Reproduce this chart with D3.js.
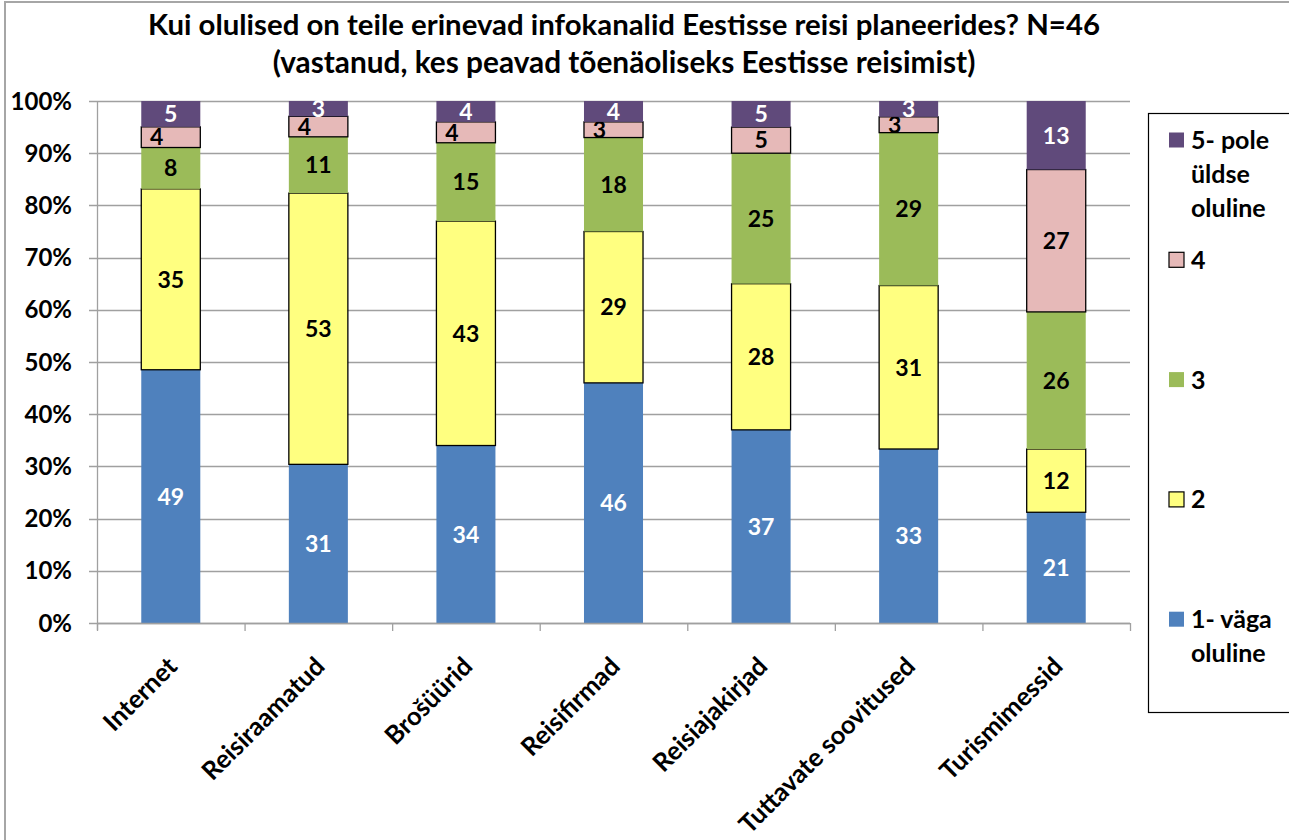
<!DOCTYPE html>
<html><head><meta charset="utf-8">
<script src="https://cdn.jsdelivr.net/npm/d3@7"></script>
<style>
body{margin:0;background:#fff}
svg{display:block}
text{font-family:Lato,"Open Sans",sans-serif;font-weight:bold;fill:#000}
</style></head>
<body><svg id="chart" width="1289" height="840"></svg>
<script>
const titleLines = ["Kui olulised on teile erinevad infokanalid Eestisse reisi planeerides? N=46",
                    "(vastanud, kes peavad tõenäoliseks Eestisse reisimist)"];
const categories = ["Internet","Reisiraamatud","Brošüürid","Reisifirmad","Reisiajakirjad","Tuttavate soovitused","Turismimessid"];
const seriesNames = ["1- väga oluline","2","3","4","5- pole üldse oluline"];
const s1 = [49,31,34,46,37,33,21];
const s2 = [35,53,43,29,28,31,12];
const s3 = [8,11,15,18,25,29,26];
const s4 = [4,4,4,3,5,3,27];
const s5 = [5,3,4,4,5,3,13];
const yTickValues = [0,0.1,0.2,0.3,0.4,0.5,0.6,0.7,0.8,0.9,1];

const seriesValues = [s1,s2,s3,s4,s5];
const colors = ["#4F81BD","#FFFF80","#9BBB59","#E6B9B8","#604A7B"];
const strokes = [null,"#000",null,"#000",null];
const labelColors = ["#fff","#000","#000","#000","#fff"];

const svg = d3.select("#chart");
const m = {left:97, right:1130, top:101, bottom:623};

// outer frame
svg.append("rect").attr("x",5).attr("y",2).attr("width",1400).attr("height",900)
  .attr("fill","none").attr("stroke","#A6A6A6").attr("stroke-width",2);

// title
const titleY = [35,73];
const titleW = [952,703];
titleLines.forEach((t,i)=>{
  const el = svg.append("text").attr("x",624).attr("y",titleY[i]).attr("text-anchor","middle")
    .style("font-size","24px").text(t);
  const w = el.node().getComputedTextLength();
  el.style("font-size",(24*titleW[i]/w).toFixed(2)+"px");
});

const keys = seriesNames;
const rows = categories.map((c,i)=>{
  const o = {cat:c};
  keys.forEach((k,j)=>o[k]=seriesValues[j][i]);
  return o;
});
const stacked = d3.stack().keys(keys).offset(d3.stackOffsetExpand)(rows);

const x = d3.scaleBand().domain(categories).range([m.left,m.right]).paddingInner(0.6).paddingOuter(0.3);
const xb = d3.scaleBand().domain(categories).range([m.left,m.right]);
const y = d3.scaleLinear().domain([0,1]).range([m.bottom,m.top]);

// gridlines + y ticks
const gy = svg.append("g");
gy.selectAll("line").data(yTickValues).join("line")
  .attr("x1",m.left-8).attr("x2",m.right)
  .attr("y1",d=>Math.round(y(d))+0.5).attr("y2",d=>Math.round(y(d))+0.5)
  .attr("stroke","#A0A0A0").attr("stroke-width",1.3);
gy.selectAll("text").data(yTickValues).join("text")
  .attr("x",72).attr("y",d=>y(d)).attr("dy","0.36em").attr("text-anchor","end")
  .style("font-size","24px").text(d3.format(".0%"));

// y axis line
svg.append("line").attr("x1",m.left+0.5).attr("x2",m.left+0.5).attr("y1",m.top).attr("y2",m.bottom+7)
  .attr("stroke","#A0A0A0").attr("stroke-width",1.3);

// bars
const layers = svg.append("g").selectAll("g").data(stacked).join("g");
layers.each(function(layer,si){
  d3.select(this).selectAll("rect").data(layer).join("rect")
    .attr("x",d=>x(d.data.cat)).attr("width",x.bandwidth())
    .attr("y",d=>y(d[1])).attr("height",d=>y(d[0])-y(d[1]))
    .attr("fill",colors[si])
    .attr("stroke",strokes[si]||"none").attr("stroke-width",strokes[si]?1.3:0);
});
// labels
layers.each(function(layer,si){
  d3.select(this).selectAll("text").data(layer).join("text")
    .attr("x",d=>{
      const h = y(d[0])-y(d[1]);
      const shift = (si===3 && h<24) ? -14 : 0;
      return x(d.data.cat)+x.bandwidth()/2+shift;
    })
    .attr("y",d=>(y(d[0])+y(d[1]))/2).attr("dy","0.36em").attr("text-anchor","middle")
    .style("font-size","23px").style("fill",labelColors[si])
    .text(d=>d.data[layer.key]);
});

// x axis line + ticks
svg.append("line").attr("x1",m.left).attr("x2",m.right).attr("y1",m.bottom+0.5).attr("y2",m.bottom+0.5)
  .attr("stroke","#A0A0A0").attr("stroke-width",1.3);
const bounds = categories.map(c=>xb(c)).concat([m.right]);
svg.append("g").selectAll("line").data(bounds).join("line")
  .attr("x1",d=>d+0.5).attr("x2",d=>d+0.5).attr("y1",m.bottom).attr("y2",m.bottom+8)
  .attr("stroke","#A0A0A0").attr("stroke-width",1.3);

// x labels
svg.append("g").selectAll("text").data(categories).join("text")
  .attr("text-anchor","end")
  .attr("transform",c=>`translate(${x(c)+x.bandwidth()/2+8},${m.bottom+45}) rotate(-45)`)
  .style("font-size","25.5px").text(c=>c);

// legend
const lg = svg.append("g");
lg.append("rect").attr("x",1148.5).attr("y",113.5).attr("width",200).attr("height",599)
  .attr("fill","#fff").attr("stroke","#000").attr("stroke-width",1.2);
const order = [4,3,2,1,0];
const step = (712-113)/5;
order.forEach((si,i)=>{
  const cy = 140 + i*step;
  lg.append("rect").attr("x",1169).attr("y",cy-7.5).attr("width",15).attr("height",15)
    .attr("fill",colors[si]).attr("stroke",strokes[si]||"none").attr("stroke-width",strokes[si]?1.2:0);
  const t = lg.append("text").attr("x",1191).attr("y",cy).style("font-size","25px");
  const words = seriesNames[si].split(" ");
  const lines = [];
  let cur = "";
  words.forEach(w=>{
    const test = cur ? cur+" "+w : w;
    t.text(test);
    if (cur && t.node().getComputedTextLength() > 95) { lines.push(cur); cur = w; }
    else cur = test;
  });
  lines.push(cur);
  t.text(null);
  lines.forEach((ln,k)=>{
    t.append("tspan").attr("x",1191).attr("dy",k===0?"0.36em":"34px").text(ln);
  });
});
</script></body></html>
